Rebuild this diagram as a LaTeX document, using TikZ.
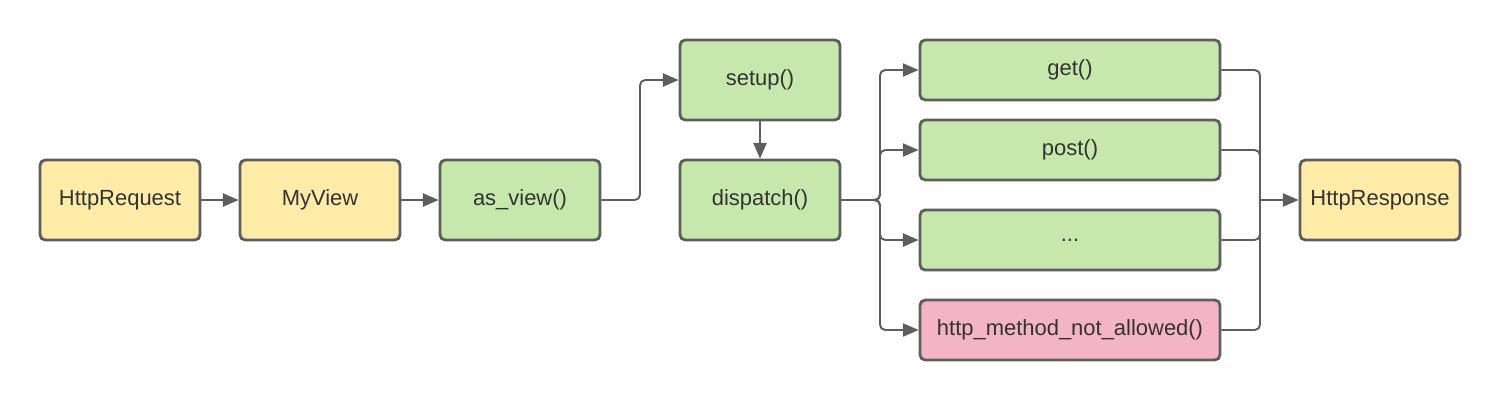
\documentclass[tikz,border=0pt]{standalone}
\usepackage{fontspec}
\setmainfont{Liberation Sans}
\usetikzlibrary{arrows.meta}
\definecolor{boxline}{HTML}{5E5E5E}
\definecolor{yel}{HTML}{FFECA9}
\definecolor{grn}{HTML}{C7E8AC}
\definecolor{pnk}{HTML}{F4B4C8}
\definecolor{txt}{HTML}{333333}
\begin{document}
\begin{tikzpicture}[x=0.02cm,y=-0.02cm,
  box/.style={draw=boxline,line width=1.6pt,rounded corners=3pt,text=txt,font=\fontsize{12.5}{15}\selectfont,inner sep=0pt},
  sbox/.style={box,minimum width=160*0.02cm,minimum height=80*0.02cm},
  wbox/.style={box,minimum width=300*0.02cm,minimum height=60*0.02cm},
  conn/.style={draw=boxline,line width=1.1pt,rounded corners=3pt,-{Triangle[length=9pt,width=7.5pt]}},
  plain/.style={draw=boxline,line width=1.1pt,rounded corners=3pt}]
\useasboundingbox (0,0) rectangle (1500,400);
\node[sbox,fill=yel] (req) at (120,200) {HttpRequest};
\node[sbox,fill=yel] (myview) at (320,200) {MyView};
\node[sbox,fill=grn] (asview) at (520,200) {as\_view()};
\node[sbox,fill=grn] (setup) at (760,80) {setup()};
\node[sbox,fill=grn] (dispatch) at (760,200) {dispatch()};
\node[wbox,fill=grn] (get) at (1070,70) {get()};
\node[wbox,fill=grn] (post) at (1070,150) {post()};
\node[wbox,fill=grn] (dots) at (1070,240) {...};
\node[wbox,fill=pnk] (hmna) at (1070,330) {http\_method\_not\_allowed()};
\node[sbox,fill=yel] (resp) at (1380,200) {HttpResponse};
\coordinate (jl) at (880,200);
\coordinate (jr) at (1260,200);
\path[conn] (req) -- (myview);
\path[conn] (myview) -- (asview);
\path[conn] (asview.east) -| (640,140) |- (setup.west);
\path[conn] (setup) -- (dispatch);
\foreach \t in {get,post,dots,hmna}{
  \path[conn] (dispatch.east) -- (jl) |- (\t.west);
  \path[plain] (\t.east) -| (jr);
}
\path[conn] (jr) -- (resp.west);
\end{tikzpicture}
\end{document}
